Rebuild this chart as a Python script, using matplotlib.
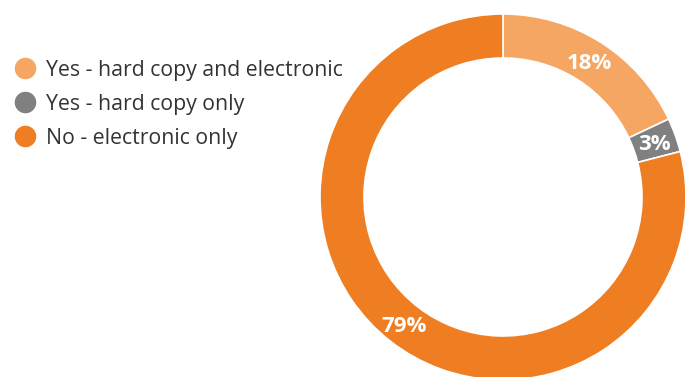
import matplotlib.pyplot as plt

labels = ['Yes - hard copy and electronic', 'Yes - hard copy only', 'No - electronic only']
values = [18, 3, 79]
colors = ['#F5A663', '#808080', '#EF7D22']

plt.rcParams['font.family'] = ['Open Sans', 'DejaVu Sans']

fig = plt.figure(figsize=(6.85, 3.77), dpi=100)
ax = fig.add_axes([0, 0, 1, 1])

# donut, positioned in pixel units
wedges, texts, autotexts = ax.pie(values, colors=colors, startangle=90, counterclock=False,
                                  center=(503, 180), radius=183,
                                  autopct='%d%%', pctdistance=0.88,
                                  wedgeprops=dict(width=44, edgecolor='white', linewidth=1.2),
                                  textprops=dict(color='white', fontsize=16, fontweight='bold',
                                                 va='center_baseline'))
ax.set_xlim(0, 685)
ax.set_ylim(0, 377)
ax.set_aspect('equal')
ax.axis('off')

# legend drawn by hand: dot + label per row
for i, (lab, c) in enumerate(zip(labels, colors)):
    y = 377 - (68 + 34 * i)
    ax.plot(25, y, 'o', markersize=14.5, color=c, clip_on=False)
    ax.text(46, y, lab, fontsize=15.3, color='#333333', va='center_baseline', ha='left')

fig.savefig('out.png', dpi=100)
